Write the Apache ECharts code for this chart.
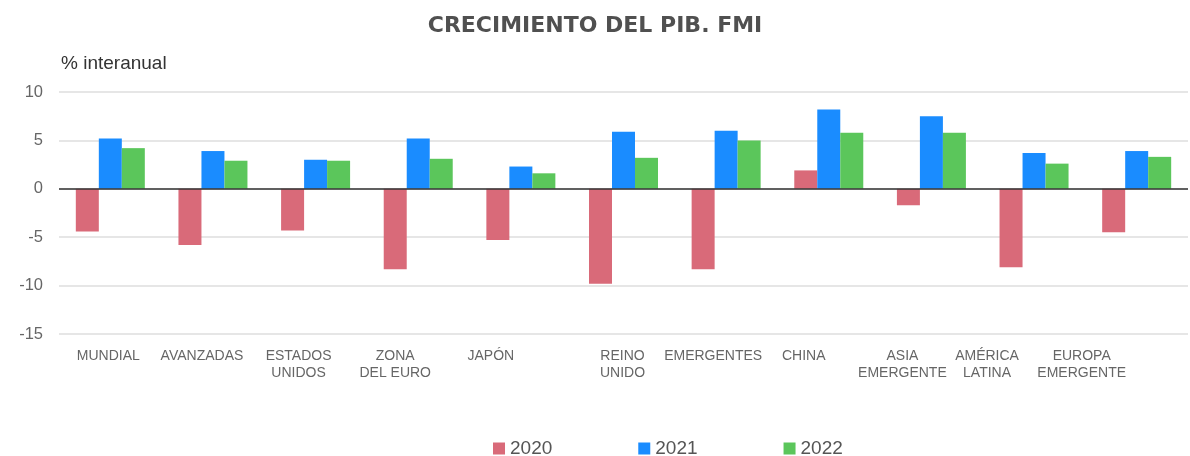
<!DOCTYPE html>
<html>
<head>
<meta charset="utf-8">
<script src="https://cdn.jsdelivr.net/npm/echarts@6/dist/echarts.min.js"></script>
<style>html,body{margin:0;padding:0;background:#fff}#c{width:1190px;height:456px}</style>
</head>
<body>
<div id="c"></div>
<script>
var categories = ['MUNDIAL','AVANZADAS','ESTADOS\nUNIDOS','ZONA\nDEL EURO','JAPÓN','REINO\nUNIDO','EMERGENTES','CHINA','ASIA\nEMERGENTE','AMÉRICA\nLATINA','EUROPA\nEMERGENTE'];
var s2020 = [-4.4,-5.8,-4.3,-8.3,-5.3,-9.8,-8.3,1.9,-1.7,-8.1,-4.5];
var s2021 = [5.2,3.9,3.0,5.2,2.3,5.9,6.0,8.2,7.5,3.7,3.9];
var s2022 = [4.2,2.9,2.9,3.1,1.6,3.2,5.0,5.8,5.8,2.6,3.3];
var seriesNames = ['2020','2021','2022'];
var colors = ['#D96A79','#1A8CFF','#5BC65B'];
// layout: the original's category labels sit slightly left of their bar groups (px)
var labelNudge = [2,11,17,23,30,1,13,25,29,47,55];

var chart = echarts.init(document.getElementById('c'));
var font = 'Liberation Sans, Arial, sans-serif';
var rich = {};
labelNudge.forEach(function(n,i){
  rich['s'+i] = {fontFamily:font,fontSize:14,color:'#666',lineHeight:17,padding:[0,2*n,0,0]};
});
function bar(name, data, color, withZero){
  var s = {name:name,type:'bar',data:data,barWidth:23,barGap:'0%',itemStyle:{color:color},emphasis:{disabled:true}};
  if(withZero){
    s.markLine = {silent:true,symbol:['none','none'],label:{show:false},lineStyle:{color:'#333',width:1.5,type:'solid'},data:[{yAxis:0}]};
  }
  return s;
}
chart.setOption({
  animation:false,
  textStyle:{fontFamily:font},
  title:{text:'CRECIMIENTO DEL PIB. FMI',left:'center',top:10,
    textStyle:{fontFamily:'DejaVu Sans, sans-serif',fontSize:22,fontWeight:'bold',color:'#505050'}},
  graphic:[{type:'text',left:61,top:54,style:{text:'% interanual',fontFamily:font,fontSize:19,fill:'#333'}}],
  legend:{data:seriesNames,left:488,top:434,icon:'rect',itemWidth:12,itemHeight:12,itemGap:86,
    textStyle:{fontFamily:font,fontSize:19,color:'#555'}},
  grid:{left:59,right:2,top:92,bottom:122,containLabel:false,outerBoundsMode:'none'},
  xAxis:{type:'category',data:categories,axisLine:{show:false},axisTick:{show:false},
    axisLabel:{interval:0,margin:14,rich:rich,hideOverlap:false,
      formatter:function(v,i){return v.split('\n').map(function(l){return '{s'+i+'|'+l+'}';}).join('\n');}}},
  yAxis:{type:'value',min:-15,max:10,interval:5,
    axisLine:{show:false},axisTick:{show:false},
    axisLabel:{margin:16,fontFamily:font,fontSize:16.5,color:'#666'},
    splitLine:{lineStyle:{color:'#dedede',width:1.5}}},
  series:[bar('2020',s2020,colors[0],true),bar('2021',s2021,colors[1]),bar('2022',s2022,colors[2])]
});
</script>
</body>
</html>
